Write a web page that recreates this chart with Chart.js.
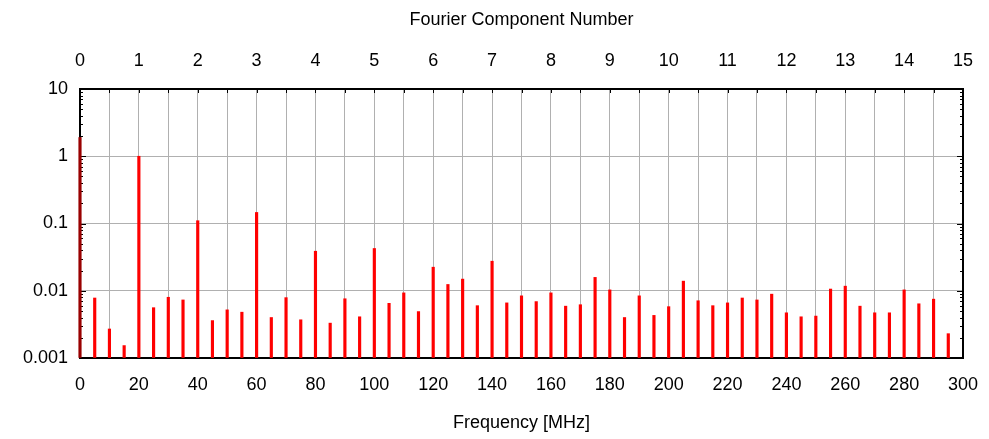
<!DOCTYPE html>
<html>
<head>
<meta charset="utf-8">
<script src="https://cdn.jsdelivr.net/npm/chart.js@4.4.1/dist/chart.umd.min.js"></script>
<style>
  html, body { margin: 0; padding: 0; background: #fff; }
  #wrap { width: 989px; height: 439px; }
</style>
</head>
<body>
<div id="wrap"><canvas id="c" width="989" height="439"></canvas></div>
<script>
'use strict';

/* ── Data ───────────────────────────────────────────────── */

const FREQ_MHZ = [
  0, 5, 10, 15, 20, 25, 30, 35, 40, 45, 50, 55, 60, 65, 70, 75, 80, 85, 90, 95,
  100, 105, 110, 115, 120, 125, 130, 135, 140, 145, 150, 155, 160, 165, 170, 175, 180, 185, 190, 195,
  200, 205, 210, 215, 220, 225, 230, 235, 240, 245, 250, 255, 260, 265, 270, 275, 280, 285, 290, 295,
];

const AMPLITUDE = [
  1.9, 0.0078, 0.0027, 0.00153, 1.0, 0.0056, 0.0080, 0.0073, 0.11, 0.0036,
  0.0052, 0.0048, 0.146, 0.0040, 0.0079, 0.0037, 0.0387, 0.0033, 0.0076, 0.0041,
  0.0425, 0.0065, 0.0093, 0.0049, 0.0224, 0.0124, 0.0149, 0.0060, 0.0275, 0.0066,
  0.0084, 0.0069, 0.0093, 0.0059, 0.0062, 0.0158, 0.0103, 0.0040, 0.0084, 0.0043,
  0.0058, 0.0139, 0.0071, 0.0060, 0.0066, 0.0078, 0.0073, 0.0089, 0.0047, 0.0041,
  0.0042, 0.0106, 0.0117, 0.0059, 0.0047, 0.0047, 0.0103, 0.0064, 0.0075, 0.0023,
];

const Y_TICKS = [0.001, 0.01, 0.1, 1, 10];
const Y_TICK_LABELS = ['0.001', '0.01', '0.1', '1', '10'];
const COMPONENT_MAX = 15;   // 20 MHz per Fourier component

const FONT = '"Liberation Sans", Arial, sans-serif';

Chart.defaults.font.family = FONT;
Chart.defaults.font.size = 18;
Chart.defaults.color = '#000';

/** Fix a horizontal axis height and stop its end labels from pushing the plot inward. */
function fitHorizontal(height) {
  return s => {
    s.height = height;
    s.paddingLeft = 0;
    s.paddingRight = 0;
  };
}

/* ── Frame + inward tick marks (drawn under the spikes) ─── */

const framePlugin = {
  id: 'frame',
  beforeDatasetsDraw(chart) {
    const { ctx, chartArea: a, scales } = chart;
    ctx.save();
    ctx.strokeStyle = '#000';
    ctx.lineWidth = 1;

    // log minor ticks, left and right
    for (let d = 0; d < Y_TICKS.length; d++) {
      for (let m = 1; m <= 9; m++) {
        const v = Y_TICKS[d] * m;
        if (v > 10) break;
        const y = Math.round(scales.y.getPixelForValue(v)) + 0.5;
        const len = m === 1 ? 6 : 3;
        ctx.beginPath();
        ctx.moveTo(a.left, y); ctx.lineTo(a.left + len, y);
        ctx.moveTo(a.right, y); ctx.lineTo(a.right - len, y);
        ctx.stroke();
      }
    }
    // top axis: short ticks every 10 MHz
    for (let f = 0; f <= 300; f += 10) {
      const x = Math.round(scales.x.getPixelForValue(f)) + 0.5;
      ctx.beginPath();
      ctx.moveTo(x, a.top); ctx.lineTo(x, a.top + 4);
      ctx.stroke();
    }

    ctx.lineWidth = 2;
    ctx.strokeRect(a.left, a.top, a.right - a.left, a.bottom - a.top);
    ctx.restore();
  },
};

/* ── Chart ──────────────────────────────────────────────── */

new Chart(document.getElementById('c'), {
  type: 'bar',
  data: {
    datasets: [{
      data: FREQ_MHZ.map((f, i) => ({ x: f, y: AMPLITUDE[i] })),
      // the DC line sits on the frame, so it reads darker
      backgroundColor: ctx => (ctx.raw && ctx.raw.x === 0 ? '#990000' : '#ff0000'),
      borderWidth: 0,
      barThickness: 2.5,
      base: Y_TICKS[0],
      clip: false,
    }],
  },
  options: {
    responsive: false,
    animation: false,
    layout: { padding: { left: 0, right: 26, top: 0, bottom: 0 } },
    plugins: {
      legend: { display: false },
      tooltip: { enabled: false },
    },
    scales: {
      x: {
        type: 'linear',
        position: 'bottom',
        min: 0,
        max: 300,
        offset: false,
        afterFit: fitHorizontal(81),
        grid: { color: '#b0b0b0', lineWidth: 1, drawTicks: false, offset: false },
        border: { display: false },
        ticks: {
          stepSize: 10,
          autoSkip: false,
          maxRotation: 0,
          padding: 16,
          callback: v => (v % 20 === 0 ? String(v) : ''),
        },
        title: {
          display: true,
          text: 'Frequency [MHz]',
          padding: { top: 0, bottom: 5 },
        },
      },
      x2: {
        type: 'linear',
        position: 'top',
        min: 0,
        max: COMPONENT_MAX,
        offset: false,
        afterFit: fitHorizontal(89),
        grid: { display: false, drawTicks: false, offset: false },
        border: { display: false },
        ticks: { stepSize: 1, autoSkip: false, maxRotation: 0, padding: 17 },
        title: {
          display: true,
          text: 'Fourier Component Number',
          padding: { top: 9, bottom: 0 },
        },
      },
      y: {
        type: 'logarithmic',
        min: Y_TICKS[0],
        max: Y_TICKS[Y_TICKS.length - 1],
        afterFit: s => { s.width = 80; },
        afterBuildTicks: s => { s.ticks = Y_TICKS.map(v => ({ value: v })); },
        grid: { color: '#b0b0b0', lineWidth: 1, drawTicks: false },
        border: { display: false },
        ticks: {
          padding: 12,
          callback: v => Y_TICK_LABELS[Y_TICKS.indexOf(v)] ?? '',
        },
      },
    },
  },
  plugins: [framePlugin],
});
</script>
</body>
</html>
